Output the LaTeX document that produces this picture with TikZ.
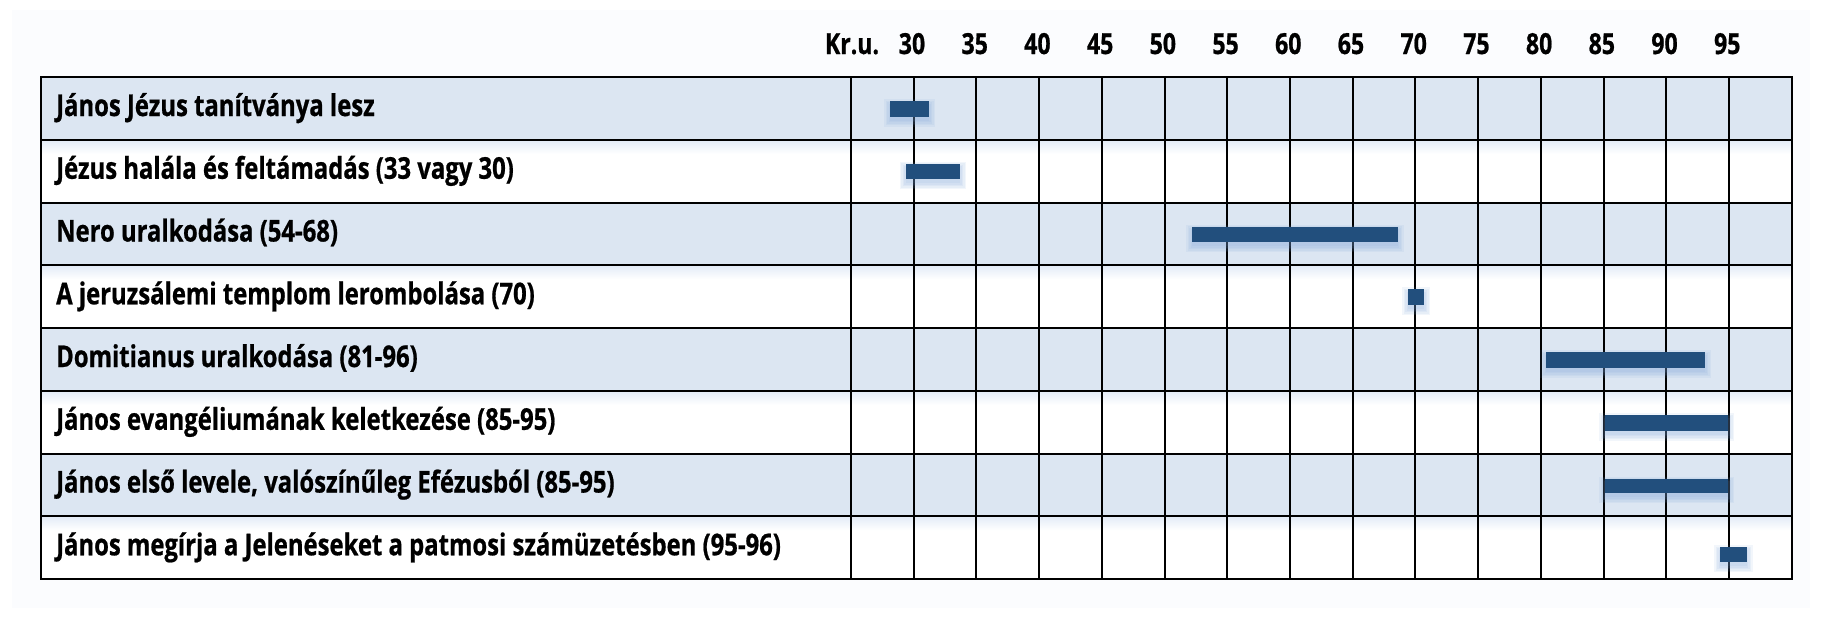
\documentclass[tikz,border=0pt]{standalone}
\usepackage{fontspec}
\setmainfont{Open Sans}[FakeStretch=0.795,BoldFeatures={FakeBold=0.7}]
\definecolor{rowblue}{RGB}{220,230,242}
\definecolor{barblue}{RGB}{34,79,125}
\definecolor{shadowblue}{RGB}{120,160,215}
\definecolor{framebg}{RGB}{251,252,254}
\definecolor{celltint}{RGB}{226,235,247}
\newcommand{\gbar}[4]{%
  \foreach \r in {1,2.5,4,5.5,7}
    \fill[shadowblue,opacity=0.09] ({#1-\r+1},{#2+4-\r+1}) rectangle ({#3+\r-1},{#4+4+\r-1});
  \fill[bar] (#1,#2) rectangle (#3,#4);}
\begin{document}
\begin{tikzpicture}[x=1pt,y=-1pt,
  lbl/.style={anchor=base west,inner sep=0pt,font=\fontsize{30}{33}\selectfont\bfseries},
  yr/.style={anchor=base,inner sep=0pt,font=\fontsize{29}{32}\selectfont\bfseries},
  bar/.style={fill=barblue,draw=none},
  gridline/.style={line width=2pt,black}]
\useasboundingbox (0,0) rectangle (1822,619);
\fill[white] (0,0) rectangle (1822,619);
\fill[framebg] (12,10) rectangle (1810,608);
% rows
\foreach \i in {0,2,4,6}
  \fill[rowblue] (41,{77+\i*62.75}) rectangle (1791.5,{77+(\i+1)*62.75});
\foreach \i in {1,3,5,7}{
  \fill[white] (41,{77+\i*62.75}) rectangle (1791.5,{77+(\i+1)*62.75});
  \shade[top color=celltint,bottom color=white] (41,{77+\i*62.75}) rectangle (1791.5,{77+\i*62.75+14});
}
% grid
\foreach \i in {0,...,8}
  \draw[gridline] (40,{77+\i*62.75}) -- (1792.5,{77+\i*62.75});
\draw[gridline] (41,76) -- (41,580);
\foreach \j in {0,...,15}
  \draw[gridline] ({851+\j*62.71},76) -- ({851+\j*62.71},580);
% header
\node[yr] (h0) at (852,54) {Kr.u.};
\foreach \y in {30,35,...,95}
  \node[yr] (h\y) at ({912+(\y-30)*12.542},54) {\y};
% labels
\node[lbl] (r1) at (56,116) {János Jézus tanítványa lesz};
\node[lbl] (r2) at (56,178.75) {Jézus halála és feltámadás (33 vagy 30)};
\node[lbl] (r3) at (56,241.5) {Nero uralkodása (54-68)};
\node[lbl] (r4) at (56,304.25) {A jeruzsálemi templom lerombolása (70)};
\node[lbl] (r5) at (56,367) {Domitianus uralkodása (81-96)};
\node[lbl] (r6) at (56,429.75) {János evangéliumának keletkezése (85-95)};
\node[lbl] (r7) at (56,492.5) {János első levele, valószínűleg Efézusból (85-95)};
\node[lbl] (r8) at (56,555.25) {János megírja a Jelenéseket a patmosi számüzetésben (95-96)};
% bars
\gbar{890}{101}{929.3}{116.7}
\gbar{905.7}{163.7}{960}{179}
\gbar{1192.3}{226.7}{1397.7}{242}
\gbar{1408.3}{289.3}{1424}{305}
\gbar{1546}{352.3}{1705.3}{367.7}
\gbar{1605.3}{415.3}{1728}{430.7}
\gbar{1605.3}{478.7}{1728}{493.3}
\gbar{1720}{547.3}{1746.7}{562.3}
\end{tikzpicture}
\end{document}
